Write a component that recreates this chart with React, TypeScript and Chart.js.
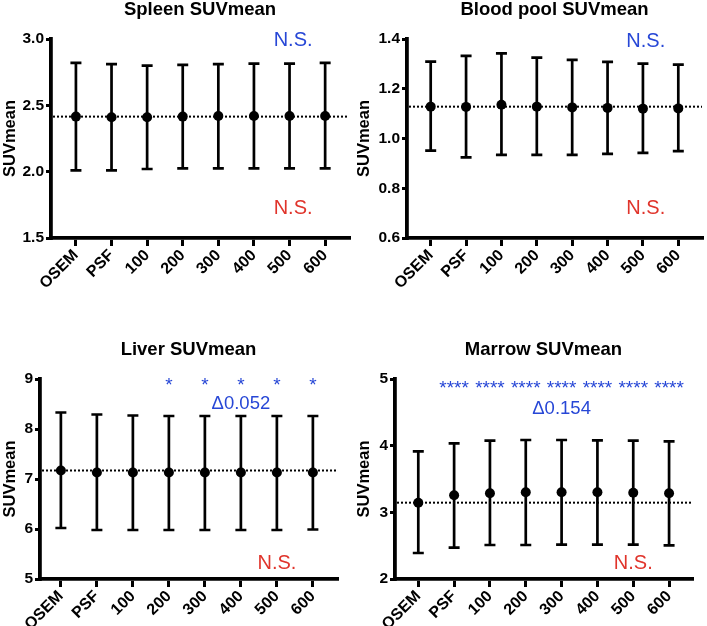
import React, { useEffect, useRef } from 'react';
import { Chart, registerables } from 'chart.js';

Chart.register(...registerables);

const categories = ['OSEM', 'PSF', '100', '200', '300', '400', '500', '600'];

const spleenMean = [2.415, 2.41, 2.41, 2.415, 2.42, 2.42, 2.42, 2.42];
const spleenUpper = [2.82, 2.81, 2.8, 2.805, 2.81, 2.815, 2.815, 2.82];
const spleenLower = [2.01, 2.01, 2.02, 2.025, 2.025, 2.025, 2.025, 2.025];
const spleenRef = 2.415;
const spleenTicks = [1.5, 2.0, 2.5, 3.0];

const bloodMean = [1.128, 1.127, 1.136, 1.128, 1.125, 1.123, 1.12, 1.121];
const bloodUpper = [1.309, 1.332, 1.342, 1.325, 1.316, 1.308, 1.301, 1.297];
const bloodLower = [0.951, 0.924, 0.934, 0.934, 0.934, 0.938, 0.942, 0.949];
const bloodRef = 1.128;
const bloodTicks = [0.6, 0.8, 1.0, 1.2, 1.4];

const liverMean = [7.17, 7.13, 7.13, 7.13, 7.13, 7.13, 7.13, 7.13];
const liverUpper = [8.33, 8.29, 8.27, 8.26, 8.26, 8.26, 8.26, 8.26];
const liverLower = [6.02, 5.98, 5.98, 5.98, 5.98, 5.98, 5.98, 5.99];
const liverRef = 7.17;
const liverTicks = [5, 6, 7, 8, 9];
const liverStars = ['', '', '', '*', '*', '*', '*', '*'];

const marrowMean = [3.145, 3.255, 3.285, 3.3, 3.3, 3.3, 3.295, 3.285];
const marrowUpper = [3.915, 4.035, 4.075, 4.085, 4.085, 4.08, 4.075, 4.065];
const marrowLower = [2.39, 2.47, 2.51, 2.51, 2.515, 2.515, 2.515, 2.505];
const marrowRef = 3.145;
const marrowTicks = [2, 3, 4, 5];
const marrowStars = ['', '****', '****', '****', '****', '****', '****', '****'];

const BLUE = '#2747d6';
const RED = '#e0342b';
const FAMILY = "'Liberation Sans', Arial, Helvetica, sans-serif";

type Note = { text: string; color: string; x: number; y: number; size: number };
type Panel = {
  title: string;
  mean: number[];
  upper: number[];
  lower: number[];
  ref: number;
  ticks: number[];
  decimals: number;
  left: number;
  top: number;
  width: number;
  height: number;
  area: { left: number; top: number; right: number; bottom: number };
  xMin: number;
  xMax: number;
  notes: Note[];
  stars?: string[];
  starY?: number;
};

const panels: Panel[] = [
  {
    title: 'Spleen SUVmean', mean: spleenMean, upper: spleenUpper, lower: spleenLower, ref: spleenRef,
    ticks: spleenTicks, decimals: 1,
    left: 0, top: 0, width: 354, height: 313,
    area: { left: 51, top: 39, right: 350, bottom: 238 }, xMin: -0.7, xMax: 7.67,
    notes: [
      { text: 'N.S.', color: BLUE, x: 6.1, y: 2.99, size: 20 },
      { text: 'N.S.', color: RED, x: 6.1, y: 1.724, size: 20 },
    ],
  },
  {
    title: 'Blood pool SUVmean', mean: bloodMean, upper: bloodUpper, lower: bloodLower, ref: bloodRef,
    ticks: bloodTicks, decimals: 1,
    left: 354, top: 0, width: 353, height: 313,
    area: { left: 53, top: 39, right: 352, bottom: 238 }, xMin: -0.67, xMax: 7.67,
    notes: [
      { text: 'N.S.', color: BLUE, x: 6.08, y: 1.389, size: 20 },
      { text: 'N.S.', color: RED, x: 6.08, y: 0.717, size: 20 },
    ],
  },
  {
    title: 'Liver SUVmean', mean: liverMean, upper: liverUpper, lower: liverLower, ref: liverRef,
    ticks: liverTicks, decimals: 0,
    left: 0, top: 313, width: 354, height: 313,
    area: { left: 40, top: 66, right: 337, bottom: 266 }, xMin: -0.58, xMax: 7.67,
    notes: [
      { text: 'Δ0.052', color: BLUE, x: 5.0, y: 8.51, size: 18.5 },
      { text: 'N.S.', color: RED, x: 6.0, y: 5.31, size: 20 },
    ],
    stars: liverStars, starY: 8.86,
  },
  {
    title: 'Marrow SUVmean', mean: marrowMean, upper: marrowUpper, lower: marrowLower, ref: marrowRef,
    ticks: marrowTicks, decimals: 0,
    left: 354, top: 313, width: 353, height: 313,
    area: { left: 41, top: 66, right: 338, bottom: 266 }, xMin: -0.65, xMax: 7.64,
    notes: [
      { text: 'Δ0.154', color: BLUE, x: 4.0, y: 4.545, size: 18.5 },
      { text: 'N.S.', color: RED, x: 6.0, y: 2.235, size: 20 },
    ],
    stars: marrowStars, starY: 4.85,
  },
];

const CAP = 5.5;

function makePlugin(p: Panel) {
  return {
    id: 'panelDecor',
    beforeDatasetsDraw(chart: any) {
      const { ctx, chartArea } = chart;
      const xs = chart.scales.x;
      const ys = chart.scales.y;
      ctx.save();
      ctx.strokeStyle = '#000';
      ctx.lineWidth = 2;
      ctx.setLineDash([2, 2]);
      const ry = ys.getPixelForValue(p.ref);
      ctx.beginPath();
      ctx.moveTo(chartArea.left + 2, ry);
      ctx.lineTo(chartArea.right, ry);
      ctx.stroke();
      ctx.setLineDash([]);
      ctx.lineWidth = 2.7;
      p.mean.forEach((_, i) => {
        const x = xs.getPixelForValue(i);
        const yt = ys.getPixelForValue(p.upper[i]);
        const yb = ys.getPixelForValue(p.lower[i]);
        ctx.beginPath();
        ctx.moveTo(x, yt);
        ctx.lineTo(x, yb);
        ctx.moveTo(x - CAP, yt);
        ctx.lineTo(x + CAP, yt);
        ctx.moveTo(x - CAP, yb);
        ctx.lineTo(x + CAP, yb);
        ctx.stroke();
      });
      ctx.restore();
    },
    afterDraw(chart: any) {
      const { ctx, chartArea } = chart;
      const xs = chart.scales.x;
      const ys = chart.scales.y;
      ctx.save();
      ctx.fillStyle = '#000';
      ctx.font = `bold 18.5px ${FAMILY}`;
      ctx.textAlign = 'center';
      ctx.textBaseline = 'alphabetic';
      ctx.fillText(p.title, (chartArea.left + chartArea.right) / 2, chartArea.top - 24);
      ctx.textBaseline = 'middle';
      p.notes.forEach((n) => {
        ctx.fillStyle = n.color;
        ctx.font = `${n.size}px ${FAMILY}`;
        ctx.fillText(n.text, xs.getPixelForValue(n.x), ys.getPixelForValue(n.y));
      });
      if (p.stars && p.starY !== undefined) {
        ctx.fillStyle = BLUE;
        ctx.font = `19px ${FAMILY}`;
        p.stars.forEach((s, i) => {
          if (s) ctx.fillText(s, xs.getPixelForValue(i), ys.getPixelForValue(p.starY));
        });
      }
      ctx.restore();
    },
  };
}

function PanelChart({ p }: { p: Panel }) {
  const ref = useRef<HTMLCanvasElement>(null);
  useEffect(() => {
    const axisGrid = {
      display: true,
      drawOnChartArea: false,
      drawTicks: true,
      tickLength: 8,
      lineWidth: 3,
      tickWidth: 3,
      color: '#000',
      tickColor: '#000',
    };
    const axisBorder = { display: true, width: 3.8, color: '#000' };
    const chart = new Chart(ref.current as HTMLCanvasElement, {
      type: 'scatter',
      data: {
        datasets: [
          {
            data: p.mean.map((v, i) => ({ x: i, y: v })),
            pointRadius: 5,
            pointHoverRadius: 5,
            backgroundColor: '#000',
            borderColor: '#000',
            borderWidth: 0,
          },
        ],
      },
      options: {
        animation: false,
        responsive: false,
        events: [],
        layout: {
          padding: { top: p.area.top, left: 0, right: p.width - p.area.right, bottom: 0 },
        },
        plugins: {
          legend: { display: false },
          tooltip: { enabled: false },
          title: { display: false },
        },
        scales: {
          x: {
            type: 'linear',
            min: p.xMin,
            max: p.xMax,
            afterBuildTicks: (s: any) => {
              s.ticks = categories.map((_, i) => ({ value: i }));
            },
            afterFit: (s: any) => {
              s.height = p.height - p.area.bottom;
            },
            ticks: {
              autoSkip: false,
              minRotation: 45,
              maxRotation: 45,
              padding: 0,
              color: '#000',
              font: { family: FAMILY, weight: 'bold', size: 16 },
              callback: (v: any) => categories[Math.round(Number(v))] ?? '',
            },
            grid: axisGrid,
            border: axisBorder,
          },
          y: {
            type: 'linear',
            min: p.ticks[0],
            max: p.ticks[p.ticks.length - 1],
            afterBuildTicks: (s: any) => {
              s.ticks = p.ticks.map((v) => ({ value: v }));
            },
            afterFit: (s: any) => {
              s.width = p.area.left;
            },
            ticks: {
              padding: 2,
              color: '#000',
              font: { family: FAMILY, weight: 'bold', size: 15.5 },
              callback: (v: any) => Number(v).toFixed(p.decimals),
            },
            title: {
              display: true,
              text: 'SUVmean',
              color: '#000',
              font: { family: FAMILY, weight: 'bold', size: 16.5 },
              padding: { top: 1, bottom: 0 },
            },
            grid: { ...axisGrid, tickLength: 5 },
            border: axisBorder,
          },
        },
      } as any,
      plugins: [makePlugin(p)],
    });
    return () => chart.destroy();
  }, [p]);
  return (
    <canvas
      ref={ref}
      width={p.width}
      height={p.height}
      style={{ position: 'absolute', left: p.left, top: p.top, width: p.width, height: p.height }}
    />
  );
}

export default function App() {
  return (
    <div style={{ position: 'fixed', left: 0, top: 0, width: 707, height: 626, background: '#fff' }}>
      {panels.map((p) => (
        <PanelChart key={p.title} p={p} />
      ))}
    </div>
  );
}
